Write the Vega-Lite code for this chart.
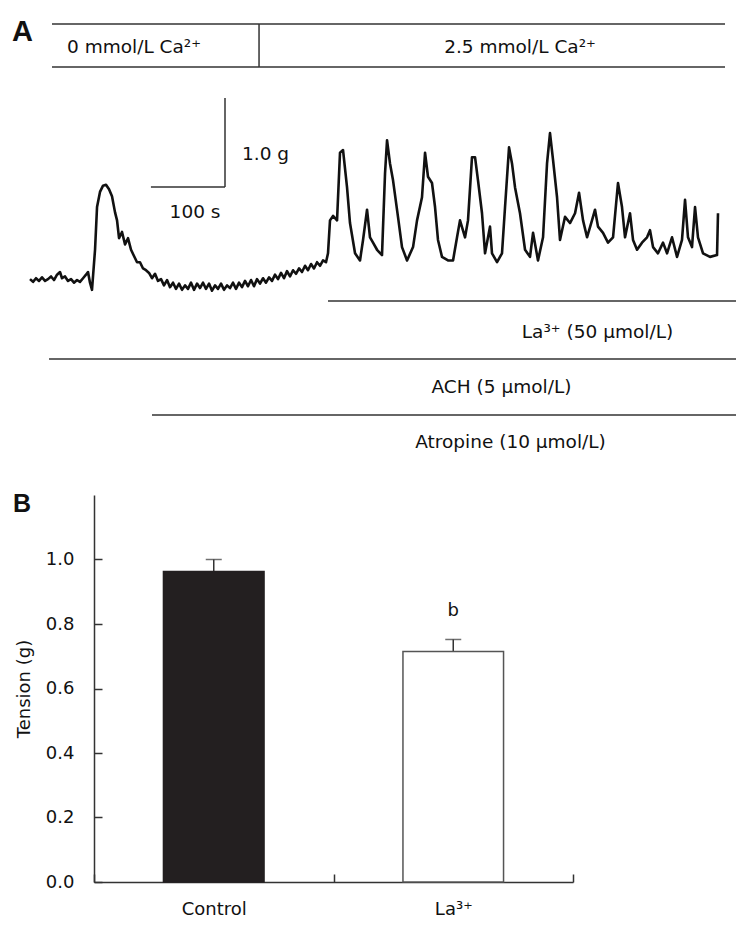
{
  "$schema": "https://vega.github.io/schema/vega-lite/v6.json",
  "padding": {"left": 12, "top": 0, "right": 0, "bottom": 8},
  "background": "white",
  "bounds": "flush",
  "spacing": 35,
  "config": {"view": {"stroke": null}, "font": "DejaVu Sans", "text": {"font": "DejaVu Sans", "color": "#111"}},
  "datasets": {
    "trace": [
      {"t":40.5,"g":0.01},{"t":44.6,"g":-0.02},{"t":48.6,"g":0.02},{"t":52.7,"g":-0.01},{"t":56.7,"g":0.03},{"t":60.8,"g":-0.01},{"t":64.8,"g":0.01},{"t":68.9,"g":0.04},{"t":72.9,"g":0.0},{"t":77.0,"g":0.06},{"t":81.0,"g":0.09},{"t":83.7,"g":0.02},{"t":87.8,"g":0.04},{"t":91.8,"g":-0.01},{"t":95.9,"g":0.01},{"t":99.9,"g":-0.03},{"t":104.0,"g":0.0},{"t":108.0,"g":-0.02},{"t":112.1,"g":0.02},{"t":116.1,"g":0.06},{"t":118.8,"g":0.09},{"t":121.5,"g":-0.03},{"t":124.2,"g":-0.11},{"t":128.3,"g":0.34},{"t":131.0,"g":0.82},{"t":135.0,"g":0.99},{"t":139.1,"g":1.06},{"t":143.1,"g":1.07},{"t":147.2,"g":1.02},{"t":151.2,"g":0.94},{"t":155.3,"g":0.76},{"t":158.0,"g":0.67},{"t":160.7,"g":0.47},{"t":164.7,"g":0.54},{"t":168.8,"g":0.40},{"t":172.8,"g":0.47},{"t":176.9,"g":0.34},{"t":180.9,"g":0.27},{"t":185.0,"g":0.20},{"t":189.0,"g":0.20},{"t":193.1,"g":0.13},{"t":197.1,"g":0.11},{"t":201.2,"g":0.08},{"t":205.2,"g":0.02},{"t":209.3,"g":0.07},{"t":213.3,"g":-0.01},{"t":217.4,"g":0.01},{"t":221.4,"g":-0.06},{"t":225.5,"g":0.0},{"t":229.5,"g":-0.08},{"t":233.6,"g":-0.03},{"t":237.6,"g":-0.10},{"t":241.7,"g":-0.04},{"t":245.7,"g":-0.11},{"t":249.8,"g":-0.06},{"t":253.8,"g":-0.10},{"t":257.9,"g":-0.03},{"t":261.9,"g":-0.11},{"t":266.0,"g":-0.04},{"t":270.0,"g":-0.09},{"t":274.1,"g":-0.03},{"t":278.1,"g":-0.10},{"t":282.2,"g":-0.04},{"t":286.2,"g":-0.12},{"t":290.3,"g":-0.06},{"t":294.3,"g":-0.10},{"t":298.4,"g":-0.04},{"t":302.4,"g":-0.11},{"t":306.5,"g":-0.06},{"t":310.5,"g":-0.09},{"t":314.6,"g":-0.03},{"t":318.6,"g":-0.10},{"t":322.7,"g":-0.03},{"t":326.7,"g":-0.08},{"t":330.8,"g":-0.01},{"t":334.8,"g":-0.07},{"t":338.9,"g":0.0},{"t":342.9,"g":-0.07},{"t":347.0,"g":0.01},{"t":351.0,"g":-0.04},{"t":355.1,"g":0.02},{"t":359.1,"g":-0.03},{"t":363.2,"g":0.03},{"t":367.2,"g":-0.01},{"t":371.3,"g":0.06},{"t":375.3,"g":0.01},{"t":379.4,"g":0.08},{"t":383.4,"g":0.02},{"t":387.5,"g":0.10},{"t":391.5,"g":0.04},{"t":395.6,"g":0.11},{"t":399.6,"g":0.07},{"t":403.7,"g":0.13},{"t":407.7,"g":0.09},{"t":411.8,"g":0.16},{"t":415.8,"g":0.11},{"t":419.9,"g":0.18},{"t":423.9,"g":0.13},{"t":428.0,"g":0.20},{"t":432.0,"g":0.16},{"t":436.1,"g":0.22},{"t":440.1,"g":0.20},{"t":442.8,"g":0.30},{"t":445.5,"g":0.67},{"t":449.6,"g":0.72},{"t":455.0,"g":0.67},{"t":459.0,"g":1.43},{"t":463.1,"g":1.46},{"t":468.5,"g":1.04},{"t":472.5,"g":0.64},{"t":479.3,"g":0.30},{"t":486.0,"g":0.22},{"t":490.1,"g":0.45},{"t":495.5,"g":0.79},{"t":499.5,"g":0.48},{"t":503.6,"g":0.42},{"t":509.0,"g":0.34},{"t":515.7,"g":0.28},{"t":519.8,"g":1.20},{"t":522.5,"g":1.57},{"t":526.5,"g":1.31},{"t":530.6,"g":1.12},{"t":537.3,"g":0.71},{"t":542.7,"g":0.37},{"t":549.5,"g":0.22},{"t":557.6,"g":0.37},{"t":563.0,"g":0.67},{"t":569.7,"g":0.93},{"t":573.8,"g":1.43},{"t":577.8,"g":1.16},{"t":583.2,"g":1.09},{"t":587.3,"g":0.82},{"t":591.3,"g":0.45},{"t":596.7,"g":0.26},{"t":604.8,"g":0.22},{"t":611.6,"g":0.22},{"t":617.0,"g":0.48},{"t":621.0,"g":0.67},{"t":627.8,"g":0.48},{"t":631.8,"g":0.67},{"t":637.2,"g":1.38},{"t":641.3,"g":1.38},{"t":645.3,"g":1.12},{"t":650.7,"g":0.75},{"t":654.8,"g":0.30},{"t":661.5,"g":0.60},{"t":664.2,"g":0.30},{"t":671.0,"g":0.20},{"t":677.7,"g":0.30},{"t":681.8,"g":0.82},{"t":687.2,"g":1.49},{"t":691.2,"g":1.31},{"t":695.3,"g":1.04},{"t":702.0,"g":0.75},{"t":708.8,"g":0.34},{"t":715.5,"g":0.26},{"t":719.6,"g":0.53},{"t":726.3,"g":0.22},{"t":733.1,"g":0.48},{"t":738.5,"g":1.31},{"t":742.5,"g":1.65},{"t":746.6,"g":1.35},{"t":752.0,"g":0.93},{"t":756.0,"g":0.45},{"t":762.8,"g":0.71},{"t":769.5,"g":0.64},{"t":776.3,"g":0.75},{"t":781.7,"g":0.98},{"t":787.1,"g":0.67},{"t":792.5,"g":0.48},{"t":799.2,"g":0.67},{"t":803.3,"g":0.79},{"t":807.3,"g":0.60},{"t":814.1,"g":0.53},{"t":820.8,"g":0.42},{"t":827.6,"g":0.48},{"t":834.3,"g":1.09},{"t":839.7,"g":0.82},{"t":843.8,"g":0.48},{"t":850.5,"g":0.75},{"t":854.6,"g":0.45},{"t":860.0,"g":0.34},{"t":866.7,"g":0.42},{"t":873.5,"g":0.48},{"t":877.5,"g":0.56},{"t":881.6,"g":0.37},{"t":888.3,"g":0.30},{"t":895.1,"g":0.42},{"t":900.5,"g":0.30},{"t":907.2,"g":0.48},{"t":914.0,"g":0.26},{"t":920.7,"g":0.45},{"t":924.8,"g":0.90},{"t":928.8,"g":0.48},{"t":934.2,"g":0.37},{"t":938.3,"g":0.82},{"t":942.3,"g":0.48},{"t":949.1,"g":0.30},{"t":958.5,"g":0.26},{"t":968.0,"g":0.28},{"t":969.3,"g":0.75}
    ],
    "solutions": [
      {"conc": 0, "label": "0 mmol/L Ca²⁺", "start": 70.2, "end": 349.7},
      {"conc": 2.5, "label": "2.5 mmol/L Ca²⁺", "start": 349.7, "end": 978.8}
    ],
    "treatments": [
      {"agent": "La", "label": "La³⁺ (50 μmol/L)", "start": 442.8, "end": 993.6},
      {"agent": "ACH", "label": "ACH (5 μmol/L)", "start": 66.2, "end": 993.6},
      {"agent": "Atropine", "label": "Atropine (10 μmol/L)", "start": 205.2, "end": 993.6}
    ],
    "calibration": [{"time_label": "100 s", "tension_label": "1.0 g"}],
    "tension": [
      {"group": "Control", "tension": 0.963, "sem": 0.037, "sig": ""},
      {"group": "La³⁺", "tension": 0.715, "sem": 0.037, "sig": "b"}
    ]
  },
  "vconcat": [
    {
      "width": 644,
      "height": 460,
      "title": {"text": "A", "anchor": "start", "frame": "group", "font": "Liberation Sans", "fontSize": 29, "fontWeight": "bold", "color": "#111", "baseline": "top", "offset": 0, "dx": -82, "dy": 47},
      "layer": [
        {
          "data": {"name": "trace"},
          "mark": {"type": "line", "color": "#111", "strokeWidth": 2.6, "strokeJoin": "round"},
          "encoding": {
            "x": {"field": "t", "type": "quantitative", "scale": {"domain": [126.9, 996.3], "nice": false, "zero": false}, "axis": null},
            "y": {"field": "g", "type": "quantitative", "scale": {"domain": [-2.022, 3.146], "nice": false, "zero": false}, "axis": null}
          }
        },
        {
          "data": {"name": "solutions"},
          "mark": {"type": "rule", "color": "#333", "strokeWidth": 1.5},
          "encoding": {"x": {"field": "start", "type": "quantitative"}, "x2": {"field": "end"}, "y": {"datum": 2.876, "type": "quantitative"}}
        },
        {
          "data": {"name": "solutions"},
          "mark": {"type": "rule", "color": "#333", "strokeWidth": 1.5},
          "encoding": {"x": {"field": "start", "type": "quantitative"}, "x2": {"field": "end"}, "y": {"datum": 2.393, "type": "quantitative"}}
        },
        {
          "data": {"name": "solutions"},
          "transform": [{"filter": "datum.conc > 0"}],
          "mark": {"type": "rule", "color": "#333", "strokeWidth": 1.5},
          "encoding": {"x": {"field": "start", "type": "quantitative"}, "y": {"datum": 2.876, "type": "quantitative"}, "y2": {"datum": 2.393}}
        },
        {
          "data": {"name": "solutions"},
          "transform": [{"filter": "datum.conc == 0"}],
          "mark": {"type": "text", "fontSize": 18.5, "align": "center", "baseline": "alphabetic"},
          "encoding": {"x": {"datum": 180.9, "type": "quantitative"}, "y": {"datum": 2.551, "type": "quantitative"}, "text": {"field": "label"}}
        },
        {
          "data": {"name": "solutions"},
          "transform": [{"filter": "datum.conc > 0"}],
          "mark": {"type": "text", "fontSize": 18.5, "align": "center", "baseline": "alphabetic"},
          "encoding": {"x": {"datum": 702, "type": "quantitative"}, "y": {"datum": 2.551, "type": "quantitative"}, "text": {"field": "label"}}
        },
        {
          "data": {"name": "calibration"},
          "mark": {"type": "rule", "color": "#333", "strokeWidth": 1.5},
          "encoding": {"x": {"datum": 203.75, "type": "quantitative"}, "x2": {"datum": 303.75}, "y": {"datum": 1.045, "type": "quantitative"}}
        },
        {
          "data": {"name": "calibration"},
          "mark": {"type": "rule", "color": "#333", "strokeWidth": 1.5},
          "encoding": {"x": {"datum": 303.75, "type": "quantitative"}, "y": {"datum": 1.045, "type": "quantitative"}, "y2": {"datum": 2.045}}
        },
        {
          "data": {"name": "calibration"},
          "mark": {"type": "text", "fontSize": 18.5, "align": "left", "baseline": "alphabetic"},
          "encoding": {"x": {"datum": 326.7, "type": "quantitative"}, "y": {"datum": 1.348, "type": "quantitative"}, "text": {"field": "tension_label"}}
        },
        {
          "data": {"name": "calibration"},
          "mark": {"type": "text", "fontSize": 18.5, "align": "center", "baseline": "alphabetic"},
          "encoding": {"x": {"datum": 263.3, "type": "quantitative"}, "y": {"datum": 0.697, "type": "quantitative"}, "text": {"field": "time_label"}}
        },
        {
          "data": {"name": "treatments"},
          "transform": [{"filter": "datum.agent == 'La'"}],
          "mark": {"type": "rule", "color": "#333", "strokeWidth": 1.5},
          "encoding": {"x": {"field": "start", "type": "quantitative"}, "x2": {"field": "end"}, "y": {"datum": -0.236, "type": "quantitative"}}
        },
        {
          "data": {"name": "treatments"},
          "transform": [{"filter": "datum.agent == 'ACH'"}],
          "mark": {"type": "rule", "color": "#333", "strokeWidth": 1.5},
          "encoding": {"x": {"field": "start", "type": "quantitative"}, "x2": {"field": "end"}, "y": {"datum": -0.888, "type": "quantitative"}}
        },
        {
          "data": {"name": "treatments"},
          "transform": [{"filter": "datum.agent == 'Atropine'"}],
          "mark": {"type": "rule", "color": "#333", "strokeWidth": 1.5},
          "encoding": {"x": {"field": "start", "type": "quantitative"}, "x2": {"field": "end"}, "y": {"datum": -1.517, "type": "quantitative"}}
        },
        {
          "data": {"name": "treatments"},
          "transform": [{"filter": "datum.agent == 'La'"}],
          "mark": {"type": "text", "fontSize": 18.5, "align": "center", "baseline": "alphabetic"},
          "encoding": {"x": {"datum": 806.6, "type": "quantitative"}, "y": {"datum": -0.652, "type": "quantitative"}, "text": {"field": "label"}}
        },
        {
          "data": {"name": "treatments"},
          "transform": [{"filter": "datum.agent == 'ACH'"}],
          "mark": {"type": "text", "fontSize": 18.5, "align": "center", "baseline": "alphabetic"},
          "encoding": {"x": {"datum": 677.0, "type": "quantitative"}, "y": {"datum": -1.27, "type": "quantitative"}, "text": {"field": "label"}}
        },
        {
          "data": {"name": "treatments"},
          "transform": [{"filter": "datum.agent == 'Atropine'"}],
          "mark": {"type": "text", "fontSize": 18.5, "align": "center", "baseline": "alphabetic"},
          "encoding": {"x": {"datum": 689.2, "type": "quantitative"}, "y": {"datum": -1.888, "type": "quantitative"}, "text": {"field": "label"}}
        }
      ]
    },
    {
      "width": 479,
      "height": 387,
      "title": {"text": "B", "anchor": "start", "frame": "group", "font": "Liberation Sans", "fontSize": 25, "fontWeight": "bold", "color": "#111", "baseline": "top", "offset": 0, "dx": -81, "dy": 22},
      "data": {"name": "tension"},
      "encoding": {
        "x": {
          "field": "group", "type": "nominal", "sort": ["Control", "La³⁺"],
          "scale": {"paddingInner": 0, "paddingOuter": 0},
          "axis": {"title": null, "labelAngle": 0, "tickBand": "extent", "tickSize": -8, "labelPadding": 26, "labelFontSize": 18, "labelFont": "DejaVu Sans", "labelColor": "#111", "domainColor": "#333", "domainWidth": 1.5, "tickColor": "#333", "tickWidth": 1.5}
        }
      },
      "layer": [
        {
          "mark": {"type": "errorbar", "ticks": {"size": 16, "thickness": 1.5, "color": "#333"}, "rule": {"strokeWidth": 1.5, "color": "#333"}},
          "encoding": {
            "y": {
              "field": "tension", "type": "quantitative",
              "scale": {"domain": [0, 1.2], "nice": false, "zero": true},
              "axis": {"title": "Tension (g)", "values": [0, 0.2, 0.4, 0.6, 0.8, 1.0], "format": ".1f", "grid": false, "tickSize": -8, "labelPadding": 28, "labelFontSize": 18, "labelFont": "DejaVu Sans", "labelColor": "#111", "titleFontSize": 18, "titleFontWeight": "normal", "titleFont": "DejaVu Sans", "titleColor": "#111", "titlePadding": 12, "domainColor": "#333", "domainWidth": 1.5, "tickColor": "#333", "tickWidth": 1.5}
            },
            "yError": {"field": "sem"}
          }
        },
        {
          "mark": {"type": "bar", "width": {"band": 0.42}, "strokeWidth": 1.5},
          "encoding": {
            "y": {"field": "tension", "type": "quantitative"},
            "fill": {"field": "group", "type": "nominal", "scale": {"domain": ["Control", "La³⁺"], "range": ["#231f20", "#ffffff"]}, "legend": null},
            "stroke": {"field": "group", "type": "nominal", "scale": {"domain": ["Control", "La³⁺"], "range": ["#231f20", "#555555"]}, "legend": null}
          }
        },
        {
          "mark": {"type": "text", "fontSize": 18, "baseline": "alphabetic", "dy": -35, "color": "#111"},
          "encoding": {
            "y": {"field": "tension", "type": "quantitative"},
            "text": {"field": "sig"}
          }
        }
      ]
    }
  ]
}
